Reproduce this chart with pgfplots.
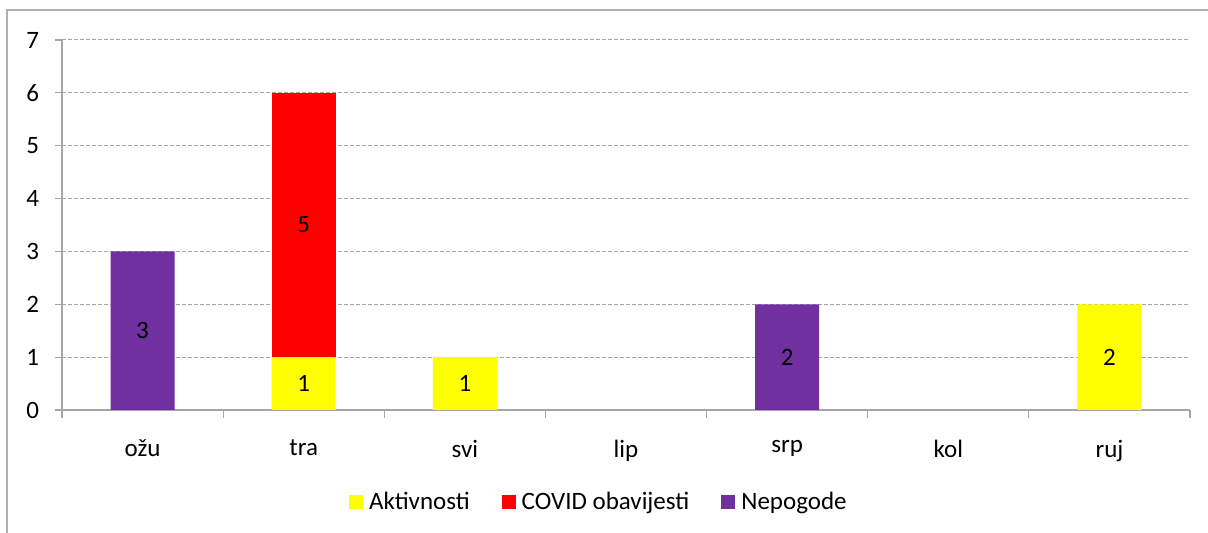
\documentclass[border=0pt]{standalone}
\usepackage{pgfplots}
\pgfplotsset{compat=1.18}
\usepackage{fontspec}
\setmainfont{Carlito}
\definecolor{akt}{HTML}{FFFF00}
\definecolor{cov}{HTML}{FF0000}
\definecolor{nep}{HTML}{7030A0}
\definecolor{frm}{HTML}{B0B0B0}
\definecolor{gridc}{HTML}{A6A6A6}
\newcommand{\cfont}{\fontsize{12.5}{15}\selectfont}
\begin{document}
\begin{tikzpicture}
\useasboundingbox (0,0) rectangle (604pt,266.5pt);
\draw[frm, line width=0.8pt] (3.5pt,-20pt) -- (3.5pt,261.5pt) -- (640pt,261.5pt);
\begin{axis}[
  at={(31pt,61.5pt)}, anchor=south west,
  scale only axis, width=564pt, height=185pt,
  ybar stacked, bar width=32pt,
  xmin=-0.5, xmax=6.5, ymin=0, ymax=7,
  xtick={0,...,6},
  xticklabels={ožu,tra,svi,lip,srp,kol,ruj},
  minor xtick={-0.5,0.5,...,6.5},
  ytick={0,...,7},
  axis lines*=left,
  axis line style={draw=gridc, line width=0.6pt, -},
  tick align=outside,
  major tick length=3.5pt, minor tick length=4pt,
  major x tick style={draw=none},
  minor x tick style={draw=gridc, line width=0.6pt},
  major y tick style={draw=gridc, line width=0.6pt},
  ymajorgrids,
  major grid style={draw=gridc, line width=0.5pt, dash pattern=on 2pt off 1pt},
  /pgf/number format/assume math mode=true,
  ticklabel style={font=\cfont, text=black},
  yticklabel style={xshift=-4.5pt},
  xticklabel style={yshift=-8pt},
  legend style={at={(0.4768,-0.249)}, anchor=center, draw=none, fill=none,
    font=\cfont, legend columns=3,
    /tikz/every odd column/.style={column sep=1pt},
    /tikz/every even column/.style={column sep=14pt}},
  legend cell align=left,
]
\addplot[fill=akt, draw=none, legend image code/.code={\fill[akt] (0pt,-3.5pt) rectangle (7pt,3.5pt);}]
  coordinates {(0,0) (1,1) (2,1) (3,0) (4,0) (5,0) (6,2)};
\addlegendentry{Aktivnosti}
\addplot[fill=cov, draw=none, legend image code/.code={\fill[cov] (0pt,-3.5pt) rectangle (7pt,3.5pt);}]
  coordinates {(0,0) (1,5) (2,0) (3,0) (4,0) (5,0) (6,0)};
\addlegendentry{COVID obavijesti}
\addplot[fill=nep, draw=none, legend image code/.code={\fill[nep] (0pt,-3.5pt) rectangle (7pt,3.5pt);}]
  coordinates {(0,3) (1,0) (2,0) (3,0) (4,2) (5,0) (6,0)};
\addlegendentry{Nepogode}
\end{axis}
\begin{axis}[
  at={(31pt,61.5pt)}, anchor=south west,
  scale only axis, width=564pt, height=185pt,
  xmin=-0.5, xmax=6.5, ymin=0, ymax=7,
  hide axis,
]
\addplot[only marks, mark=none, point meta=explicit symbolic,
  nodes near coords,
  every node near coord/.append style={anchor=center, font=\cfont, text=black}]
  table[meta=l] {
x y l
0 1.5 3
1 0.5 1
1 3.5 5
2 0.5 1
4 1.0 2
6 1.0 2
};
\end{axis}
\end{tikzpicture}
\end{document}
